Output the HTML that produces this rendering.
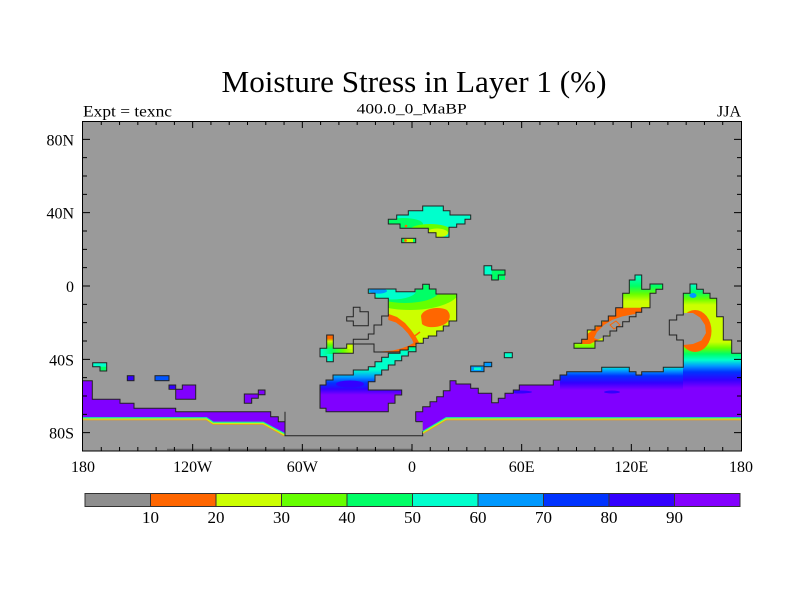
<!DOCTYPE html>
<html><head><meta charset="utf-8"><style>html,body{margin:0;padding:0;background:#fff}svg{display:block}</style></head>
<body>
<svg width="800" height="600" viewBox="0 0 800 600" xmlns="http://www.w3.org/2000/svg" font-family="'Liberation Serif', serif">
<defs>
<clipPath id="plot"><rect x="83" y="121" width="658" height="330"/></clipPath>
<clipPath id="cN"><polygon points="388.3,219.3 396.7,219.3 396.7,215 408.3,215 408.3,210.7 422.7,210.7 422.7,206 443.3,206 443.3,210.7 450,210.7 450,215 470.7,215 470.7,219.3 465,219.3 465,224 456.7,224 456.7,227.3 449,227.3 449,237.3 436,237.3 436,232.7 428.3,232.7 428.3,228.3 400,228.3 400,224 388.3,224"/></clipPath>
<clipPath id="cAF"><polygon points="368.3,289 396,289 396,291.7 415,291.7 415,289 422.7,289 422.7,284.3 429.3,284.3 429.3,289 436,289 436,294 456.7,294 456.7,321 449,321 449,326 443.3,326 443.3,331 436.7,331 436.7,336 428.3,336 428.3,338.3 423.3,338.3 423.3,343.3 416,343.3 416,346.7 408.3,346.7 408.3,351.7 395,352 374,352 374,344 353.3,344 353.3,339.3 368.3,339.3 368.3,334 374,334 374,325 381.7,325 381.7,316 388.3,316 388.3,298.3 375,298.3 375,293.3 368.3,293.3"/></clipPath>
<clipPath id="cSA"><polygon points="320,385 326,385 326,380 333,380 333,375 353.3,375 353.3,370 368.3,370 368.3,366.7 375,366.7 375,361.7 381.7,361.7 381.7,357.3 388.3,357.3 388.3,353.3 400,353.3 400,350 408.3,350 408.3,346.7 416,346.7 416,351.7 408.3,351.7 408.3,356 401.7,356 401.7,360.7 395,360.7 395,365 388.3,365 388.3,370 381.7,370 381.7,375 375,375 375,381.7 368.3,381.7 368.3,390 401.7,390 401.7,395 395,395 395,403.3 388.3,403.3 388.3,411.7 326,411.7 326,408.3 320,408.3"/></clipPath>
<clipPath id="cSG"><polygon points="326.7,335 333.3,335 333.3,348.3 346.7,348.3 346.7,344 353.3,344 353.3,353.3 333.3,353.3 333.3,361.7 326.7,361.7 326.7,356.7 320,356.7 320,348.3 326.7,348.3"/></clipPath>
<clipPath id="cRA"><polygon points="415.7,421.7 415.7,411.7 422.7,411.7 422.7,406.7 430,406.7 430,401.7 436.7,401.7 436.7,396.7 443.3,396.7 443.3,390.7 450,390.7 450,380.7 456,380.7 456,384 470.7,384 470.7,388.3 478.3,388.3 478.3,393.3 491.7,393.3 491.7,402.7 498.3,402.7 498.3,398.3 505,398.3 505,393.3 513.3,393.3 513.3,390 519.3,390 519.3,385 553.3,385 553.3,380 560,380 560,375 566.7,375 566.7,371.7 601.7,371.7 601.7,367.3 629.3,367.3 629.3,371.7 636,371.7 636,375 641.7,375 641.7,371.7 663.3,371.7 663.3,367.3 683.3,367.3 683.3,340 676.7,340 676.7,335 669.3,335 669.3,320 676.7,320 676.7,315 683.3,315 683.3,293.3 690,293.3 690,284 696.7,284 696.7,289.3 703.3,289.3 703.3,293.3 710,293.3 710,298.3 716.7,298.3 716.7,316.7 723.3,316.7 723.3,340 731.7,340 731.7,353.3 741,353.3 741,417.3 446,417.3 422.7,431 422.7,421.7"/></clipPath>
<clipPath id="cAS"><polygon points="635,275 641.7,275 641.7,289.3 650,289.3 650,284 662.7,284 662.7,289.3 656,289.3 656,293.3 650,293.3 650,307.7 641.7,307.7 641.7,312.3 636,312.3 636,316.7 629.3,316.7 629.3,321.7 622.7,321.7 622.7,326.7 616.7,326.7 616.7,331 610,331 610,336 603.3,336 603.3,341 595,341 595,348.3 574,348.3 574,343.3 581.7,343.3 581.7,339.3 587.3,339.3 587.3,330 595,330 595,326 601.7,326 601.7,321 608.3,321 608.3,316 615.7,316 615.7,307.7 622.7,307.7 622.7,293.3 629.3,293.3 629.3,280 635,280"/></clipPath>
<linearGradient id="gBand" gradientUnits="userSpaceOnUse" x1="0" y1="346" x2="0" y2="398">
<stop offset="0" stop-color="#00ff66"/><stop offset=".115" stop-color="#00ffcc"/><stop offset=".46" stop-color="#00ffcc"/><stop offset=".6" stop-color="#0099ff"/><stop offset=".71" stop-color="#0033ff"/><stop offset=".83" stop-color="#3300ff"/><stop offset=".94" stop-color="#8000ff"/></linearGradient>
<linearGradient id="g1" gradientUnits="userSpaceOnUse" x1="0" y1="366" x2="0" y2="392">
<stop offset="0" stop-color="#00ffcc"/><stop offset=".19" stop-color="#0099ff"/><stop offset=".38" stop-color="#0033ff"/><stop offset=".65" stop-color="#3300ff"/><stop offset=".92" stop-color="#8000ff"/></linearGradient>
<linearGradient id="gB" gradientUnits="userSpaceOnUse" x1="0" y1="284" x2="0" y2="392">
<stop offset="0" stop-color="#00ffcc"/><stop offset=".074" stop-color="#00ff66"/><stop offset=".139" stop-color="#66ff00"/><stop offset=".194" stop-color="#ccff00"/><stop offset=".537" stop-color="#ccff00"/><stop offset=".593" stop-color="#66ff00"/><stop offset=".648" stop-color="#00ff66"/><stop offset=".704" stop-color="#00ffcc"/><stop offset=".759" stop-color="#0099ff"/><stop offset=".815" stop-color="#0033ff"/><stop offset=".889" stop-color="#3300ff"/><stop offset=".963" stop-color="#8000ff"/></linearGradient>
<linearGradient id="gA" gradientUnits="userSpaceOnUse" x1="0" y1="275" x2="0" y2="350">
<stop offset="0" stop-color="#00ffcc"/><stop offset=".147" stop-color="#00ff66"/><stop offset=".253" stop-color="#66ff00"/><stop offset=".347" stop-color="#ccff00"/><stop offset=".867" stop-color="#ccff00"/><stop offset=".973" stop-color="#66ff00"/></linearGradient>
<linearGradient id="gSGh" gradientUnits="userSpaceOnUse" x1="321" y1="0" x2="353" y2="0">
<stop offset="0" stop-color="#00ffcc"/><stop offset=".35" stop-color="#00ff66"/><stop offset=".7" stop-color="#66ff00"/><stop offset="1" stop-color="#ccff00"/></linearGradient>
<linearGradient id="gSGv" gradientUnits="userSpaceOnUse" x1="0" y1="335" x2="0" y2="349">
<stop offset="0" stop-color="#ff6600"/><stop offset=".25" stop-color="#ff6600"/><stop offset=".45" stop-color="#ccff00"/><stop offset=".7" stop-color="#66ff00"/><stop offset="1" stop-color="#00ff66"/></linearGradient>
</defs>

<rect width="800" height="600" fill="#fff"/>

<!-- Titles -->
<text x="414" y="92" font-size="31" text-anchor="middle" textLength="385" lengthAdjust="spacingAndGlyphs">Moisture Stress in Layer 1 (%)</text>
<text x="411.7" y="113.5" font-size="15" text-anchor="middle" textLength="110" lengthAdjust="spacingAndGlyphs">400.0_0_MaBP</text>
<text x="83" y="116.5" font-size="16" textLength="89" lengthAdjust="spacingAndGlyphs">Expt = texnc</text>
<text x="741" y="116.5" font-size="16" text-anchor="end">JJA</text>

<g clip-path="url(#plot)">
<rect x="83" y="121" width="658" height="330" fill="#9a9a9a"/>

<!-- North shape -->
<g clip-path="url(#cN)">
<rect x="385" y="200" width="90" height="40" fill="#00ffcc"/>
<ellipse cx="403" cy="224" rx="20" ry="6" fill="#00ff66"/>
<ellipse cx="430" cy="230" rx="20" ry="6" fill="#66ff00"/>
<ellipse cx="437" cy="233" rx="11" ry="4.5" fill="#ccff00"/>
<circle cx="406" cy="226" r="1.3" fill="#ff6600"/>
</g>
<polygon points="388.3,219.3 396.7,219.3 396.7,215 408.3,215 408.3,210.7 422.7,210.7 422.7,206 443.3,206 443.3,210.7 450,210.7 450,215 470.7,215 470.7,219.3 465,219.3 465,224 456.7,224 456.7,227.3 449,227.3 449,237.3 436,237.3 436,232.7 428.3,232.7 428.3,228.3 400,228.3 400,224 388.3,224" fill="none" stroke="#222" stroke-width="1"/>

<!-- small bar -->
<rect x="401.7" y="238.3" width="14" height="4.4" fill="#00ff66"/>
<rect x="404.5" y="238.3" width="8.5" height="4.4" fill="#ccff00"/>
<circle cx="405.5" cy="240.5" r="1.4" fill="#ff6600"/>
<rect x="401.7" y="238.3" width="14" height="4.4" fill="none" stroke="#222" stroke-width="1"/>

<!-- Africa -->
<g clip-path="url(#cAF)">
<rect x="340" y="280" width="120" height="80" fill="#ccff00"/>
<ellipse cx="410" cy="290" rx="50" ry="20" fill="#66ff00"/>
<ellipse cx="405" cy="290" rx="35" ry="13" fill="#00ff66"/>
<ellipse cx="392" cy="291" rx="24" ry="8.5" fill="#00ffcc"/>
<ellipse cx="378" cy="291" rx="9" ry="2.6" fill="#0099ff"/>
<path d="M421,316 C423,308 440,306 447,310 C452,315 450,322 443,325 C436,328 426,328 422,324 Z" fill="#ff6600"/>
<polygon points="386,313 397,317 405,323 411,330 416,337 419,342.5 413,347 405,351 395,354.5 385,355.5 376,355.5 380,340 384,325" fill="#ff6600"/>
<polygon points="381.7,316 388.3,316 388.3,320 396,322.5 402.5,327.5 408,333.5 412,339.5 413.5,343 408,346 401,348.5 393,350.5 374,352 374,344 353.3,344 353.3,339.3 368.3,339.3 368.3,334 374,334 374,325 381.7,325" fill="#9a9a9a"/>
<path d="M412,338 L420,332" stroke="#ff6600" stroke-width="1.5"/>
</g>
<polygon points="368.3,289 396,289 396,291.7 415,291.7 415,289 422.7,289 422.7,284.3 429.3,284.3 429.3,289 436,289 436,294 456.7,294 456.7,321 449,321 449,326 443.3,326 443.3,331 436.7,331 436.7,336 428.3,336 428.3,338.3 423.3,338.3 423.3,343.3 416,343.3 416,346.7 408.3,346.7 408.3,351.7 395,352 374,352 374,344 353.3,344 353.3,339.3 368.3,339.3 368.3,334 374,334 374,325 381.7,325 381.7,316 388.3,316 388.3,298.3 375,298.3 375,293.3 368.3,293.3" fill="none" stroke="#222" stroke-width="1"/>

<!-- small gray box -->
<polygon points="353.3,307.3 360,307.3 360,311.7 368.3,311.7 368.3,325.7 353.3,325.7 353.3,321 346.7,321 346.7,316.7 353.3,316.7" fill="none" stroke="#222" stroke-width="1"/>

<!-- small green shape -->
<g clip-path="url(#cSG)">
<rect x="318" y="333" width="38" height="32" fill="url(#gSGh)"/>
<rect x="326.7" y="335" width="6.6" height="14" fill="url(#gSGv)"/>
<rect x="346.7" y="344" width="6.6" height="5" fill="#ccff00"/>
<rect x="326.7" y="354" width="6.6" height="8" fill="#00ffcc"/>
</g>
<polygon points="326.7,335 333.3,335 333.3,348.3 346.7,348.3 346.7,344 353.3,344 353.3,353.3 333.3,353.3 333.3,361.7 326.7,361.7 326.7,356.7 320,356.7 320,348.3 326.7,348.3" fill="none" stroke="#222" stroke-width="1"/>

<!-- SA band -->
<g clip-path="url(#cSA)">
<rect x="315" y="340" width="110" height="80" fill="url(#gBand)"/>
<ellipse cx="350" cy="384" rx="14" ry="3.5" fill="#3300ff"/>
</g>
<polygon points="320,385 326,385 326,380 333,380 333,375 353.3,375 353.3,370 368.3,370 368.3,366.7 375,366.7 375,361.7 381.7,361.7 381.7,357.3 388.3,357.3 388.3,353.3 400,353.3 400,350 408.3,350 408.3,346.7 416,346.7 416,351.7 408.3,351.7 408.3,356 401.7,356 401.7,360.7 395,360.7 395,365 388.3,365 388.3,370 381.7,370 381.7,375 375,375 375,381.7 368.3,381.7 368.3,390 401.7,390 401.7,395 395,395 395,403.3 388.3,403.3 388.3,411.7 326,411.7 326,408.3 320,408.3" fill="none" stroke="#222" stroke-width="1"/>

<!-- Left Antarctic band -->
<polygon points="83,380.7 92.3,380.7 92.3,399.3 120,399.3 120,403.3 134,403.3 134,408.3 175.7,408.3 175.7,411.7 270.7,411.7 270.7,416.7 278.3,416.7 278.3,421.7 285,421.7 285,433.3 263.3,421.7 213.3,421.7 206.7,417.3 83,417.3" fill="#8000ff"/>
<polyline points="83,380.7 92.3,380.7 92.3,399.3 120,399.3 120,403.3 134,403.3 134,408.3 175.7,408.3 175.7,411.7 270.7,411.7 270.7,416.7 278.3,416.7 278.3,421.7 285,421.7" fill="none" stroke="#222" stroke-width="1"/>
<polyline points="83,417.8 206.7,417.8 213.3,422.2 263.3,422.2 285,433.8" fill="none" stroke="#00ffaa" stroke-width="1"/>
<polyline points="83,419 206.5,419 213,423.4 263,423.4 284.5,435" fill="none" stroke="#ccff00" stroke-width="1"/>
<polyline points="83,420 206.3,420 212.8,424.3 262.8,424.3 284,436" fill="none" stroke="#ff9900" stroke-width=".6"/>
<path d="M285,411.7 V435.7 H422.7 V431" fill="none" stroke="#222" stroke-width="1"/>
<path d="M167,449.5 H412" stroke="#666" stroke-width="1.5"/>

<!-- Right band + east shape -->
<g clip-path="url(#cRA)">
<rect x="410" y="280" width="335" height="160" fill="#8000ff"/>
<rect x="560" y="360" width="124" height="80" fill="url(#g1)"/>
<rect x="683" y="280" width="60" height="160" fill="url(#gB)"/>
<ellipse cx="612" cy="392" rx="8" ry="1.5" fill="#3300ff"/>
<ellipse cx="520" cy="392" rx="12" ry="1.5" fill="#3300ff"/>
<ellipse cx="693" cy="295.5" rx="3.5" ry="2.5" fill="#0099ff"/>
<ellipse cx="695" cy="331" rx="16.5" ry="21" fill="#ff6600"/>
<polygon points="676.7,315 683.3,315 683.3,313 693,313 700,317.5 705,325 706,333 701.5,340.5 693,344 683.3,345 683.3,340 676.7,340 676.7,335 669.3,335 669.3,320 676.7,320" fill="#9a9a9a"/>
</g>
<polyline points="415.7,421.7 415.7,411.7 422.7,411.7 422.7,406.7 430,406.7 430,401.7 436.7,401.7 436.7,396.7 443.3,396.7 443.3,390.7 450,390.7 450,380.7 456,380.7 456,384 470.7,384 470.7,388.3 478.3,388.3 478.3,393.3 491.7,393.3 491.7,402.7 498.3,402.7 498.3,398.3 505,398.3 505,393.3 513.3,393.3 513.3,390 519.3,390 519.3,385 553.3,385 553.3,380 560,380 560,375 566.7,375 566.7,371.7 601.7,371.7 601.7,367.3 629.3,367.3 629.3,371.7 636,371.7 636,375 641.7,375 641.7,371.7 663.3,371.7 663.3,367.3 683.3,367.3 683.3,340 676.7,340 676.7,335 669.3,335 669.3,320 676.7,320 676.7,315 683.3,315 683.3,293.3 690,293.3 690,284 696.7,284 696.7,289.3 703.3,289.3 703.3,293.3 710,293.3 710,298.3 716.7,298.3 716.7,316.7 723.3,316.7 723.3,340 731.7,340 731.7,353.3 741,353.3" fill="none" stroke="#222" stroke-width="1"/>
<path d="M415.7,421.7 H422.7" fill="none" stroke="#222" stroke-width="1"/>
<polyline points="422.7,431.5 446,417.8 741,417.8" fill="none" stroke="#00ffaa" stroke-width="1"/>
<polyline points="422.9,432.7 446.3,419 741,419" fill="none" stroke="#ccff00" stroke-width="1"/>
<polyline points="423.1,433.7 446.5,420 741,420" fill="none" stroke="#ff9900" stroke-width=".6"/>

<!-- Asia diagonal shape -->
<g clip-path="url(#cAS)">
<rect x="570" y="270" width="100" height="85" fill="url(#gA)"/>
<polygon points="612,307.7 652,307.7 652,312 640,316 630,321 620,327 610,333 600,339 590,344 580,344 582,338 590,332 600,324 608,318" fill="#ff6600"/>
<polygon points="637,313.5 641,313 635,318 628,322.5 621,327.5 614,332 606,336.5 598,339.5 594,338 597,332 604,325 612,320 622,316.5" fill="#9a9a9a"/>
<polygon points="610,325 616,321 620,325 614,329" fill="none" stroke="#ff6600" stroke-width="1"/>
</g>
<polygon points="635,275 641.7,275 641.7,289.3 650,289.3 650,284 662.7,284 662.7,289.3 656,289.3 656,293.3 650,293.3 650,307.7 641.7,307.7 641.7,312.3 636,312.3 636,316.7 629.3,316.7 629.3,321.7 622.7,321.7 622.7,326.7 616.7,326.7 616.7,331 610,331 610,336 603.3,336 603.3,341 595,341 595,348.3 574,348.3 574,343.3 581.7,343.3 581.7,339.3 587.3,339.3 587.3,330 595,330 595,326 601.7,326 601.7,321 608.3,321 608.3,316 615.7,316 615.7,307.7 622.7,307.7 622.7,293.3 629.3,293.3 629.3,280 635,280" fill="none" stroke="#222" stroke-width="1"/>

<!-- small features left -->
<polygon points="92.7,362.7 106.7,362.7 106.7,371 100,371 100,366.7 92.7,366.7" fill="#00ffcc"/>
<rect x="100" y="366.7" width="6.7" height="4.3" fill="#00ff66"/>
<polygon points="92.7,362.7 106.7,362.7 106.7,371 100,371 100,366.7 92.7,366.7" fill="none" stroke="#222" stroke-width="1"/>
<rect x="127.3" y="375.7" width="6.7" height="5" fill="#3300ff" stroke="#222" stroke-width="1"/>
<rect x="155" y="375.7" width="14" height="5" fill="#0055ff" stroke="#222" stroke-width="1"/>
<polygon points="169,385 175.7,385 175.7,389.3 182.3,389.3 182.3,385 195.7,385 195.7,399.3 175.7,399.3 175.7,389.3 169,389.3" fill="#8000ff" stroke="#222" stroke-width="1"/>
<rect x="169.5" y="385.5" width="5.7" height="3.3" fill="#3300ff"/>
<polygon points="244.3,394 258.3,394 258.3,390 265,390 265,394.7 258.3,394.7 258.3,398.3 251.7,398.3 251.7,403.3 244.3,403.3" fill="#8000ff" stroke="#222" stroke-width="1"/>

<!-- small features middle -->
<polygon points="484,265.7 491.7,265.7 491.7,270 505,270 505,275 498.3,275 498.3,280 491.7,280 491.7,275 484,275" fill="#00ffcc"/>
<rect x="491.7" y="270" width="13.3" height="10" fill="#00ff66"/>
<polygon points="484,265.7 491.7,265.7 491.7,270 505,270 505,275 498.3,275 498.3,280 491.7,280 491.7,275 484,275" fill="none" stroke="#222" stroke-width="1"/>
<rect x="504.3" y="352.7" width="8" height="5" fill="#00ffcc" stroke="#222" stroke-width="1"/>
<rect x="484" y="362.3" width="7.7" height="4.4" fill="#0099ff" stroke="#222" stroke-width="1"/>
<rect x="470.7" y="366" width="13.3" height="5.7" fill="#0099ff" stroke="#222" stroke-width="1"/>
<rect x="474" y="367.5" width="7" height="2.5" fill="#00ffcc"/>
</g>

<!-- frame -->
<rect x="82.5" y="121.5" width="659" height="329.5" fill="none" stroke="#000" stroke-width="1"/>
<g stroke="#000" stroke-width="1" fill="none">
<path d="M101.28 121v4M119.56 121v4M137.83 121v4M156.11 121v4M174.39 121v4M192.67 121v7M210.94 121v4M229.22 121v4M247.5 121v4M265.78 121v4M284.06 121v4M302.33 121v7M320.61 121v4M338.89 121v4M357.17 121v4M375.44 121v4M393.72 121v4M412 121v7M430.28 121v4M448.56 121v4M466.83 121v4M485.11 121v4M503.39 121v4M521.67 121v7M539.94 121v4M558.22 121v4M576.5 121v4M594.78 121v4M613.06 121v4M631.33 121v7M649.61 121v4M667.89 121v4M686.17 121v4M704.44 121v4M722.72 121v4"/>
<path d="M101.28 451v-4M119.56 451v-4M137.83 451v-4M156.11 451v-4M174.39 451v-4M192.67 451v-7M210.94 451v-4M229.22 451v-4M247.5 451v-4M265.78 451v-4M284.06 451v-4M302.33 451v-7M320.61 451v-4M338.89 451v-4M357.17 451v-4M375.44 451v-4M393.72 451v-4M412 451v-7M430.28 451v-4M448.56 451v-4M466.83 451v-4M485.11 451v-4M503.39 451v-4M521.67 451v-7M539.94 451v-4M558.22 451v-4M576.5 451v-4M594.78 451v-4M613.06 451v-4M631.33 451v-7M649.61 451v-4M667.89 451v-4M686.17 451v-4M704.44 451v-4M722.72 451v-4"/>
<path d="M83 139.33h7M83 157.67h4M83 176h4M83 194.33h4M83 212.67h7M83 231h4M83 249.33h4M83 267.67h4M83 286h7M83 304.33h4M83 322.67h4M83 341h4M83 359.33h7M83 377.67h4M83 396h4M83 414.33h4M83 432.67h7"/>
<path d="M741 139.33h-7M741 157.67h-4M741 176h-4M741 194.33h-4M741 212.67h-7M741 231h-4M741 249.33h-4M741 267.67h-4M741 286h-7M741 304.33h-4M741 322.67h-4M741 341h-4M741 359.33h-7M741 377.67h-4M741 396h-4M741 414.33h-4M741 432.67h-7"/>
</g>

<!-- axis labels -->
<g font-size="16" text-anchor="end">
<text x="74" y="145.3">80N</text>
<text x="74" y="218.7">40N</text>
<text x="74" y="292">0</text>
<text x="74" y="365.3">40S</text>
<text x="74" y="438.7">80S</text>
</g>
<g font-size="16" text-anchor="middle">
<text x="83" y="472">180</text>
<text x="192.7" y="472">120W</text>
<text x="302.3" y="472">60W</text>
<text x="412" y="472">0</text>
<text x="521.7" y="472">60E</text>
<text x="631.3" y="472">120E</text>
<text x="741" y="472">180</text>
</g>

<!-- colorbar -->
<g stroke="#333" stroke-width="1">
<rect x="85" y="493.5" width="65.5" height="13" fill="#8e8e8e"/>
<rect x="150.5" y="493.5" width="65.5" height="13" fill="#ff6600"/>
<rect x="216" y="493.5" width="65.5" height="13" fill="#ccff00"/>
<rect x="281.5" y="493.5" width="65.5" height="13" fill="#66ff00"/>
<rect x="347" y="493.5" width="65.5" height="13" fill="#00ff66"/>
<rect x="412.5" y="493.5" width="65.5" height="13" fill="#00ffcc"/>
<rect x="478" y="493.5" width="65.5" height="13" fill="#0099ff"/>
<rect x="543.5" y="493.5" width="65.5" height="13" fill="#0033ff"/>
<rect x="609" y="493.5" width="65.5" height="13" fill="#3300ff"/>
<rect x="674.5" y="493.5" width="65.5" height="13" fill="#8400ff"/>
</g>
<g font-size="17" text-anchor="middle">
<text x="150.5" y="523">10</text>
<text x="216" y="523">20</text>
<text x="281.5" y="523">30</text>
<text x="347" y="523">40</text>
<text x="412.5" y="523">50</text>
<text x="478" y="523">60</text>
<text x="543.5" y="523">70</text>
<text x="609" y="523">80</text>
<text x="674.5" y="523">90</text>
</g>
</svg>
</body></html>
